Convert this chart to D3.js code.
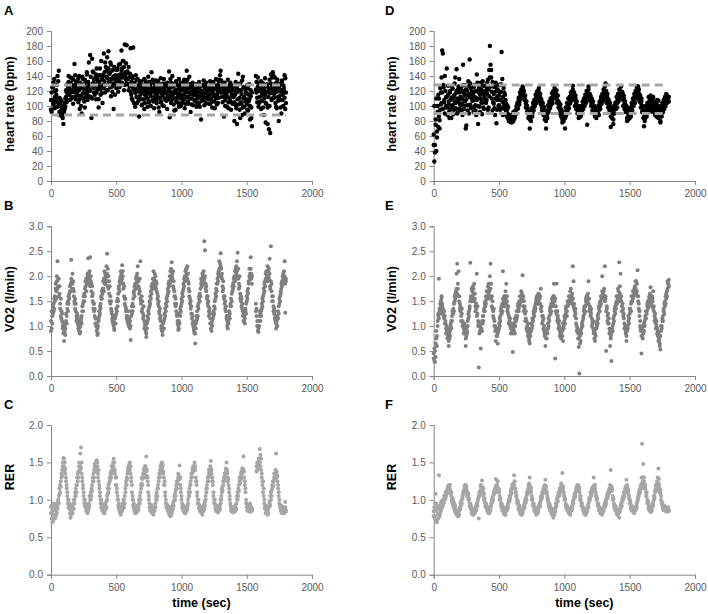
<!DOCTYPE html>
<html><head><meta charset="utf-8">
<script src="https://cdn.jsdelivr.net/npm/d3@7"></script>
<style>body{margin:0;background:#fff}svg{display:block}</style>
</head><body><svg id="c" width="708" height="614"></svg>
<script>
// sample times (sec)
const times = [
0,5,10,15,20,25,30,35,40,45,50,55,60,65,70,75,80,85,90,95,
100,105,110,115,120,125,130,135,140,145,150,155,160,165,170,175,180,185,190,195,
200,205,210,215,220,225,230,235,240,245,250,255,260,265,270,275,280,285,290,295,
300,305,310,315,320,325,330,335,340,345,350,355,360,365,370,375,380,385,390,395,
400,405,410,415,420,425,430,435,440,445,450,455,460,465,470,475,480,485,490,495,
500,505,510,515,520,525,530,535,540,545,550,555,560,565,570,575,580,585,590,595,
600,605,610,615,620,625,630,635,640,645,650,655,660,665,670,675,680,685,690,695,
700,705,710,715,720,725,730,735,740,745,750,755,760,765,770,775,780,785,790,795,
800,805,810,815,820,825,830,835,840,845,850,855,860,865,870,875,880,885,890,895,
900,905,910,915,920,925,930,935,940,945,950,955,960,965,970,975,980,985,990,995,
1000,1005,1010,1015,1020,1025,1030,1035,1040,1045,1050,1055,1060,1065,1070,1075,1080,1085,1090,1095,
1100,1105,1110,1115,1120,1125,1130,1135,1140,1145,1150,1155,1160,1165,1170,1175,1180,1185,1190,1195,
1200,1205,1210,1215,1220,1225,1230,1235,1240,1245,1250,1255,1260,1265,1270,1275,1280,1285,1290,1295,
1300,1305,1310,1315,1320,1325,1330,1335,1340,1345,1350,1355,1360,1365,1370,1375,1380,1385,1390,1395,
1400,1405,1410,1415,1420,1425,1430,1435,1440,1445,1450,1455,1460,1465,1470,1475,1480,1485,1490,1495,
1500,1505,1510,1515,1520,1525,1530,1535,1540,1545,1550,1555,1560,1565,1570,1575,1580,1585,1590,1595,
1600,1605,1610,1615,1620,1625,1630,1635,1640,1645,1650,1655,1660,1665,1670,1675,1680,1685,1690,1695,
1700,1705,1710,1715,1720,1725,1730,1735,1740,1745,1750,1755,1760,1765,1770,1775,1780,1785,1790,1795,
1800];

// A: heart rate (bpm), subject 1 — two readings per sample time
const hrA = [
95,118,108,125,102,136,112,98,121,109,140,104,147,92,110,100,94,86,97,76,
92,104,99,112,118,108,126,132,115,122,138,110,128,119,135,124,156,112,130,121,
118,132,105,140,96,125,114,90,128,136,110,122,98,131,117,142,108,126,158,120,
168,112,84,163,130,145,118,127,138,109,150,122,133,98,141,126,115,160,136,104,
128,170,145,118,152,139,165,121,173,144,132,158,113,147,126,138,96,152,130,141,
124,148,137,119,155,133,142,128,174,150,138,160,121,182,145,135,181,146,129,152,
138,126,177,115,140,108,178,122,131,99,118,135,104,127,112,86,124,109,133,117,
102,121,128,96,115,133,110,124,99,139,118,106,129,113,145,120,108,131,97,125,
116,134,104,122,128,110,92,119,137,106,125,114,130,100,121,117,108,127,96,113,
124,146,85,118,131,108,140,115,102,127,119,95,133,111,122,104,136,117,128,100,
113,126,108,121,135,97,118,130,147,112,124,103,129,116,92,120,110,126,101,118,
107,122,114,99,127,110,118,104,125,113,82,120,108,128,116,101,124,111,131,117,
122,109,126,114,103,128,118,106,121,132,113,97,124,110,127,116,104,133,120,141,
147,125,112,130,118,86,122,108,127,114,99,119,105,124,110,131,95,116,121,104,
112,80,126,101,118,76,109,143,121,95,130,105,116,88,139,110,99,124,106,117,
102,128,94,115,109,82,121,98,73,null,null,null,null,null,140,118,105,126,99,131,
112,124,96,118,107,130,88,121,115,78,103,126,98,119,69,135,64,142,125,110,
145,128,116,138,104,122,97,131,112,80,126,108,119,90,134,115,100,123,141,96,
118];
const hrA2 = [
108,92,125,104,131,97,120,106,115,128,99,133,111,88,104,93,107,98,84,90,
101,96,110,121,105,129,117,140,124,108,131,119,112,137,103,127,118,141,109,133,
126,114,137,121,109,131,100,124,139,117,128,106,135,112,123,145,119,132,113,127,
121,139,128,110,146,124,135,115,129,142,118,137,126,109,132,150,122,141,117,135,
140,124,133,158,128,147,121,137,150,132,143,125,155,136,119,148,130,140,115,134,
139,127,150,133,141,125,156,138,147,131,160,142,152,128,139,157,130,144,136,121,
127,143,119,132,110,137,124,104,129,118,141,112,123,136,107,120,131,115,126,101,
118,109,125,136,104,120,115,129,110,123,105,132,116,100,124,119,135,106,121,112,
128,109,120,115,133,98,124,111,105,129,117,101,122,136,110,118,126,107,131,119,
109,121,113,136,104,125,118,129,110,94,121,132,106,117,128,113,99,124,110,131,
121,104,131,115,109,126,103,121,112,135,106,118,139,110,124,117,102,131,115,123,
120,108,129,117,104,123,112,132,99,118,127,107,120,113,134,109,125,104,119,126,
112,125,103,121,133,110,124,98,117,129,106,123,115,136,102,121,128,111,135,124,
118,134,127,105,123,113,131,100,118,124,112,135,97,121,129,106,124,114,103,127,
121,105,115,132,97,124,119,102,129,111,84,121,103,134,98,125,112,90,120,109,
117,95,124,106,129,100,113,84,118,null,null,null,null,null,122,132,111,138,120,104,
127,106,133,114,120,98,125,110,137,104,118,129,76,112,123,100,117,130,108,138,
121,140,111,126,130,99,119,135,107,123,113,129,98,121,132,108,118,127,111,137,
104];

// D: heart rate (bpm), subject 2
const hrD = [
62,26,48,75,40,66,100,72,110,81,95,118,104,174,170,125,105,140,98,112,
150,88,115,102,93,120,108,84,126,99,111,95,130,104,117,149,90,122,108,136,
96,112,125,103,88,155,118,100,128,70,109,121,94,133,116,162,102,124,97,113,
107,92,119,128,101,88,142,110,76,123,99,115,131,105,89,118,127,96,112,120,
104,125,116,135,98,148,180,155,138,110,94,126,103,118,88,131,77,108,122,100,
114,128,95,119,172,106,88,124,101,115,98,92,86,100,83,80,86,79,84,88,
82,86,80,85,90,88,95,99,96,104,108,105,112,116,113,120,118,124,115,112,
108,103,98,100,93,90,86,70,84,88,92,90,97,101,99,106,110,108,114,117,
121,118,113,108,110,102,98,100,94,91,87,84,70,86,90,94,92,99,103,101,
108,111,109,114,117,113,120,118,112,108,104,106,99,95,97,91,88,78,86,84,
88,70,86,92,96,94,101,105,103,110,114,112,119,127,116,112,108,110,103,99,
96,93,90,95,88,92,96,94,100,104,102,108,111,109,115,75,118,122,114,110,
106,108,102,99,101,95,93,96,90,88,92,95,93,99,103,101,107,110,108,114,
117,121,119,130,113,109,111,104,100,102,96,72,92,88,90,76,95,99,97,103,
106,104,110,113,111,117,120,116,119,112,108,110,103,99,101,94,80,91,88,86,
89,93,91,98,102,100,107,111,109,115,119,124,121,126,117,112,108,104,106,99,
95,90,73,86,84,92,96,90,101,105,97,108,104,112,99,110,106,102,95,100,
92,104,98,89,107,96,86,80,94,90,99,97,103,101,107,112,109,114,111,106,
112];
const hrD2 = [
48,100,38,82,110,58,92,115,86,70,124,102,138,118,96,128,108,90,120,100,
112,98,127,106,84,118,96,111,101,123,89,114,106,138,97,120,110,92,126,104,
118,101,93,120,109,128,96,114,106,122,74,115,101,127,90,112,130,98,119,108,
116,125,99,112,94,120,108,131,100,118,126,92,110,122,104,133,98,115,109,127,
120,108,131,95,122,113,138,126,148,119,132,105,116,97,125,110,120,95,113,128,
101,118,108,129,97,136,112,104,118,96,108,103,95,90,98,86,80,88,82,78,
88,79,92,83,84,94,90,100,104,97,111,102,118,109,122,114,126,117,120,108,
114,98,106,92,96,84,92,82,90,80,97,86,104,94,108,100,115,104,119,111,
114,124,106,116,102,108,94,104,88,98,82,92,80,93,84,101,96,106,97,110,
102,117,104,120,111,124,114,111,121,104,114,98,104,90,102,86,94,82,92,80,
92,84,98,88,104,99,110,97,112,104,118,107,114,122,109,118,100,114,96,106,
90,100,84,98,92,86,100,90,106,96,110,100,115,104,120,110,113,126,108,116,
114,100,110,94,106,90,100,86,96,84,98,90,100,88,106,96,112,103,116,106,
122,110,126,112,120,104,116,98,108,94,104,86,98,84,96,82,100,90,104,96,
112,98,116,106,122,110,114,126,110,118,100,114,96,106,92,100,84,96,82,92,
84,98,86,104,94,110,100,116,104,120,110,126,114,118,122,106,114,98,110,92,
100,84,94,80,90,100,86,104,94,112,100,94,114,98,106,92,112,96,104,88,
98,86,108,94,84,100,92,78,98,86,104,92,108,96,112,100,116,104,108,112,
106];

// B: VO2 (l/min), subject 1
const vo2B = [
0.9,1.3,1.05,1.25,1.45,1.35,1.6,1.75,1.55,1.9,2.3,1.8,1.95,1.65,1.45,1.2,1.3,1.1,0.95,1.05,
0.7,0.88,0.95,1.1,1.2,1.35,1.5,1.45,1.65,1.8,1.7,2.33,1.9,2.05,1.75,1.6,1.45,1.55,1.3,1.2,
1.25,1.05,0.95,1.1,0.85,0.98,1.15,1.05,1.3,1.45,1.6,1.5,1.75,1.9,1.7,1.95,2.05,2.36,1.85,2.1,
2.38,1.9,1.7,1.8,1.5,1.35,1.45,1.2,1.05,1.15,0.9,0.82,1.0,1.15,1.3,1.25,1.45,1.6,1.55,1.75,
1.9,1.7,1.85,2.05,1.95,2.2,2.45,1.8,2.0,1.65,1.5,1.6,1.35,1.25,1.1,1.2,1.0,0.92,1.05,1.2,
1.35,1.5,1.4,1.65,1.8,1.7,1.95,2.1,1.9,2.22,2.0,1.85,1.6,1.45,1.55,1.3,1.2,1.1,1.3,1.0,
1.15,0.95,0.72,1.2,1.4,1.3,1.55,1.7,1.6,1.85,1.75,2.0,1.9,2.2,1.8,1.65,1.95,2.3,1.5,1.6,
1.35,1.25,1.4,1.1,1.0,0.9,0.78,1.05,1.2,1.15,1.35,1.5,1.45,1.7,1.65,1.85,1.75,2.1,1.95,2.05,
1.8,1.9,1.7,1.55,1.6,1.4,1.25,1.35,1.1,1.0,0.9,0.82,0.95,1.1,1.25,1.2,1.45,1.4,1.6,1.75,
1.7,1.9,1.85,2.1,1.95,2.28,2.05,1.8,1.9,1.6,1.45,1.55,1.3,1.2,1.05,0.92,1.1,1.25,1.2,1.4,
1.55,1.5,1.7,1.85,1.8,2.0,1.95,2.15,2.05,2.2,1.9,1.75,1.6,1.45,1.5,1.25,1.15,1.2,1.0,0.9,
0.85,0.65,0.95,1.1,1.3,1.2,1.45,1.6,1.5,1.75,1.85,1.8,1.95,2.0,1.9,2.7,2.52,1.85,1.7,1.55,
1.6,1.4,1.3,1.35,1.15,1.05,0.9,1.0,1.15,1.3,1.25,1.5,1.65,1.6,1.85,1.95,1.9,2.1,2.3,2.0,
2.46,2.15,1.95,1.8,1.9,1.6,1.45,1.5,1.3,1.2,1.1,0.95,1.05,1.2,1.15,1.4,1.55,1.5,1.7,1.85,
1.8,2.0,1.9,2.15,2.05,2.3,2.47,1.95,1.85,2.0,1.65,1.5,1.55,1.35,1.3,1.1,1.2,1.05,1.35,1.45,
1.6,1.55,1.75,1.9,2.15,2.05,2.38,1.95,2.0,null,null,null,null,null,1.45,1.2,1.0,0.9,0.88,1.1,
1.2,1.1,1.3,1.45,1.4,1.6,1.75,1.7,1.9,2.05,1.95,2.1,2.2,2.0,2.15,2.35,1.8,2.6,1.85,1.6,
1.5,1.4,1.25,1.3,1.1,0.95,1.0,1.2,1.15,1.4,1.55,1.5,1.7,1.85,1.8,2.0,1.95,2.1,2.3,1.27,
1.95];
const vo2B2 = [
1.1,0.95,1.2,1.4,1.3,1.55,1.5,1.85,1.7,2.0,1.75,1.95,1.6,1.8,1.35,1.55,1.15,1.25,1.0,0.85,
0.9,1.0,0.82,1.25,1.05,1.45,1.3,1.6,1.55,1.7,1.85,1.95,1.75,1.85,1.9,1.7,1.5,1.35,1.45,1.1,
1.15,1.2,1.0,0.9,1.05,0.88,1.1,1.2,1.4,1.3,1.5,1.65,1.6,1.8,1.95,1.85,2.0,1.9,2.05,1.95,
1.8,2.0,1.85,1.6,1.65,1.45,1.3,1.35,1.15,1.0,1.05,0.95,0.85,1.1,1.2,1.4,1.35,1.55,1.7,1.65,
1.75,1.95,2.1,1.85,2.0,1.9,2.05,2.15,1.75,1.9,1.8,1.45,1.5,1.3,1.15,1.05,1.1,0.95,1.15,1.05,
1.25,1.3,1.55,1.5,1.75,1.9,1.85,2.0,2.05,1.95,2.1,1.75,1.8,1.55,1.4,1.35,1.15,1.2,1.05,1.15,
1.05,1.1,1.0,1.3,1.25,1.45,1.4,1.65,1.8,1.75,1.95,1.85,2.05,1.95,1.9,1.75,1.7,1.55,1.45,1.3,
1.5,1.15,1.2,0.95,1.05,1.0,0.85,0.95,1.1,1.3,1.25,1.4,1.6,1.55,1.8,1.75,1.95,1.85,1.9,1.8,
2.0,1.75,1.85,1.65,1.45,1.5,1.3,1.15,1.2,0.95,1.0,0.9,1.05,0.95,1.15,1.35,1.3,1.55,1.5,1.65,
1.85,1.8,2.0,1.9,2.15,2.0,1.95,2.1,1.75,1.7,1.6,1.4,1.45,1.25,1.1,1.0,0.95,1.05,1.35,1.3,
1.45,1.65,1.6,1.75,1.95,1.9,2.1,2.0,2.15,1.95,2.05,1.85,1.7,1.55,1.35,1.4,1.25,1.05,1.1,0.95,
1.0,0.85,1.05,1.2,1.15,1.4,1.35,1.55,1.65,1.6,1.95,1.9,2.05,1.85,2.1,1.95,2.0,1.75,1.8,1.6,
1.45,1.5,1.2,1.25,1.05,0.95,1.05,1.1,1.25,1.2,1.4,1.35,1.55,1.75,1.7,1.85,2.05,2.0,2.15,2.25,
2.2,2.0,2.05,1.7,1.75,1.55,1.6,1.35,1.4,1.15,1.0,1.05,1.1,1.3,1.25,1.45,1.4,1.65,1.8,1.75,
1.95,1.9,2.1,1.95,2.2,2.1,2.0,2.15,1.75,1.8,1.55,1.6,1.4,1.45,1.2,1.25,1.1,1.15,1.3,1.25,
1.5,1.7,1.65,1.85,2.0,1.95,2.15,2.05,1.85,null,null,null,null,null,1.3,1.35,1.1,1.0,0.95,1.0,
1.3,1.25,1.2,1.35,1.55,1.5,1.65,1.85,1.8,1.95,2.1,2.0,1.9,2.1,1.95,2.05,1.75,1.9,1.7,1.5,
1.6,1.3,1.35,1.15,1.2,1.05,1.1,1.0,1.3,1.25,1.45,1.6,1.65,1.75,1.9,1.85,2.05,1.95,2.0,1.85,
1.9];

// E: VO2 (l/min), subject 2
const vo2E = [
0.45,0.3,0.5,0.38,0.75,0.6,1.0,1.2,1.95,1.3,1.45,1.5,1.6,1.4,1.35,1.25,1.15,1.2,1.05,0.95,
1.0,0.85,0.8,0.6,0.75,0.9,1.0,1.1,1.2,1.3,1.25,1.45,1.6,1.55,1.7,2.05,2.25,1.75,2.1,1.6,
1.45,1.3,1.2,1.35,1.1,1.0,0.95,1.05,0.85,0.6,0.8,0.9,1.1,1.25,1.2,1.4,2.27,1.55,1.5,1.7,
1.8,1.65,1.85,1.55,1.4,1.45,2.05,1.25,1.1,0.17,1.0,0.9,0.55,0.95,1.1,1.05,1.2,1.3,1.45,1.4,
1.6,1.55,1.7,1.8,1.65,1.75,2.0,2.25,1.85,1.6,1.5,1.3,1.35,1.1,1.0,0.7,0.9,0.8,0.65,0.95,
1.05,1.0,1.2,1.3,1.25,1.45,2.1,1.5,1.4,1.6,1.55,1.85,1.5,1.35,1.4,1.2,1.1,1.15,0.95,1.0,
0.9,0.48,0.95,1.05,0.85,1.1,1.2,1.15,1.3,1.4,1.35,1.5,1.45,1.6,1.55,1.65,2.02,1.6,1.5,1.4,
1.25,1.3,1.1,1.0,1.05,0.85,0.75,0.65,0.8,0.9,1.05,1.0,1.15,1.25,1.2,1.4,1.35,1.5,1.45,1.6,
1.5,1.65,1.55,1.45,1.75,1.3,1.2,1.1,1.15,0.9,0.8,0.6,0.85,0.75,0.95,1.05,1.0,1.2,1.3,1.25,
1.45,1.4,1.55,1.6,1.85,1.5,0.35,1.4,1.85,1.3,1.2,1.05,1.1,0.9,0.85,0.75,0.95,0.8,0.7,1.0,
1.1,1.05,1.25,1.3,1.2,1.4,1.5,1.45,1.6,1.55,1.75,1.5,1.65,2.2,1.9,1.45,1.3,1.35,1.15,1.0,
0.9,0.75,0.58,0.05,0.8,0.7,0.95,1.05,1.0,1.2,1.3,1.25,1.4,1.5,1.45,1.6,1.65,1.9,1.55,1.4,
1.3,1.35,1.15,1.05,1.1,0.9,0.75,0.85,0.8,0.95,1.1,1.05,1.25,1.35,1.3,1.5,1.45,1.6,2.0,1.65,
1.7,1.6,2.2,1.55,0.5,1.35,1.2,1.25,1.05,0.95,0.6,0.75,0.3,0.9,1.0,1.05,1.2,1.3,1.25,1.45,
1.5,1.6,1.55,1.7,2.28,1.65,2.05,1.5,1.4,1.3,1.35,1.15,1.05,0.95,0.85,0.7,0.9,1.0,1.1,1.05,
1.25,1.35,1.3,1.5,1.6,1.55,1.7,1.65,1.8,1.75,1.9,1.85,2.12,1.6,1.45,1.3,1.1,0.9,0.45,0.8,
0.75,1.0,0.9,1.1,1.2,1.15,1.3,1.4,1.35,1.5,1.6,1.55,1.78,1.45,1.6,1.5,1.7,1.3,1.2,1.25,
1.05,1.1,0.95,0.8,0.85,0.7,0.6,0.53,0.9,1.0,1.1,1.2,1.35,1.45,1.4,1.6,1.55,1.7,1.9,1.85,
1.93];
const vo2E2 = [
0.35,0.55,0.28,0.65,0.9,0.8,1.1,1.25,1.15,1.35,1.25,1.4,1.55,1.45,1.3,1.2,1.3,1.05,1.1,0.85,
0.9,0.75,0.95,0.7,0.85,0.8,1.05,0.95,1.1,1.25,1.35,1.3,1.5,1.65,1.6,1.75,1.65,1.85,1.6,1.5,
1.35,1.4,1.1,1.25,1.0,1.05,0.85,0.9,1.0,0.75,0.95,0.85,1.0,1.15,1.3,1.35,1.5,1.6,1.75,1.6,
1.55,1.75,1.5,1.65,1.3,1.35,1.2,1.4,1.0,1.05,0.85,1.0,0.95,1.05,0.9,1.2,1.1,1.35,1.3,1.5,
1.45,1.7,1.6,1.55,1.85,1.7,1.6,1.75,1.55,1.4,1.35,1.2,1.15,1.0,0.9,0.95,0.8,0.95,0.85,0.9,
0.95,1.15,1.1,1.35,1.4,1.3,1.55,1.45,1.6,1.5,1.7,1.45,1.6,1.3,1.25,1.05,1.15,1.0,0.85,0.95,
1.05,0.85,1.0,0.9,1.15,1.0,1.1,1.3,1.2,1.45,1.3,1.4,1.6,1.5,1.7,1.5,1.55,1.4,1.3,1.35,
1.1,1.15,0.95,0.9,0.8,0.95,0.7,0.85,0.9,1.05,0.95,1.15,1.1,1.3,1.35,1.3,1.45,1.55,1.6,1.45,
1.65,1.55,1.45,1.6,1.35,1.4,1.05,1.2,0.95,1.0,0.85,0.9,0.75,0.9,0.85,0.95,1.15,1.1,1.35,1.4,
1.3,1.55,1.5,1.45,1.6,1.4,1.55,1.3,1.25,1.1,1.15,0.95,1.0,0.8,0.9,0.85,0.8,0.9,1.05,0.95,
1.2,1.15,1.35,1.4,1.3,1.5,1.45,1.6,1.5,1.7,1.55,1.6,1.45,1.55,1.4,1.35,1.2,1.25,1.05,0.9,
0.95,0.85,0.75,0.9,0.65,0.9,0.85,1.0,1.1,1.15,1.35,1.4,1.3,1.55,1.6,1.5,1.55,1.45,1.3,1.35,
1.2,1.25,1.0,1.1,0.95,0.85,0.9,0.7,0.95,1.05,1.0,1.2,1.15,1.4,1.45,1.4,1.6,1.55,1.7,1.55,
1.6,1.75,1.5,1.6,1.3,1.4,1.1,1.05,1.15,0.85,0.9,0.8,0.85,0.95,0.9,1.15,1.1,1.35,1.4,1.35,
1.6,1.45,1.75,1.6,1.5,1.8,1.55,1.6,1.3,1.45,1.2,1.25,0.95,1.0,0.9,0.8,1.0,0.95,1.2,1.15,
1.35,1.3,1.45,1.6,1.5,1.7,1.6,1.75,1.7,1.9,1.65,1.7,1.6,1.5,1.35,1.2,1.0,0.95,0.8,0.95,
0.9,0.85,1.05,1.0,1.15,1.3,1.25,1.45,1.5,1.4,1.55,1.65,1.5,1.6,1.4,1.55,1.35,1.4,1.1,1.15,
0.95,1.0,0.85,0.9,0.7,0.75,0.65,0.8,1.0,0.95,1.15,1.1,1.3,1.25,1.5,1.45,1.65,1.6,1.75,1.85,
1.8];

// C: RER, subject 1
const rerC = [
0.9,0.75,0.85,0.72,0.95,0.8,0.88,0.78,0.92,0.83,0.9,0.98,1.05,1.15,1.1,1.25,1.3,1.4,1.5,1.56,
1.45,1.5,1.35,1.25,1.15,1.05,0.95,1.0,0.88,0.92,0.76,0.85,0.9,0.82,0.95,0.88,1.0,1.1,1.05,1.2,
1.3,1.25,1.38,1.45,1.4,1.62,1.7,1.35,1.25,1.15,1.05,0.95,1.0,0.9,0.85,0.92,0.82,0.88,0.95,1.05,
1.0,1.1,1.05,1.2,1.3,1.25,1.4,1.45,1.38,1.5,1.53,1.45,1.35,1.25,1.15,1.05,0.95,1.0,0.88,0.92,
0.85,0.9,0.82,0.95,0.88,0.98,1.05,1.15,1.1,1.22,1.3,1.28,1.38,1.35,1.45,1.42,1.55,1.5,1.4,1.3,
1.2,1.1,1.0,0.92,0.95,0.85,0.88,0.8,0.9,0.85,0.95,1.0,0.9,1.05,1.15,1.25,1.2,1.35,1.42,1.4,
1.48,1.5,1.35,1.25,1.1,1.0,0.92,0.95,0.85,0.88,0.82,0.9,0.85,0.92,0.87,0.95,1.05,1.0,1.15,1.22,
1.2,1.3,1.35,1.42,1.3,1.45,1.58,1.4,1.3,1.2,1.05,0.95,0.9,0.85,0.93,0.82,0.88,0.8,0.9,0.85,
0.95,1.0,1.1,1.05,1.2,1.25,1.3,1.4,1.35,1.48,1.5,1.45,1.38,1.3,1.2,1.1,1.0,0.95,0.88,0.92,
0.85,0.8,0.9,0.78,0.85,0.82,0.92,0.88,0.98,1.05,1.0,1.12,1.2,1.15,1.25,1.3,1.28,1.46,1.2,1.1,
1.0,0.95,0.88,0.92,0.85,0.9,0.82,0.88,0.85,0.92,1.0,1.05,1.15,1.1,1.25,1.3,1.35,1.42,1.38,1.45,
1.5,1.4,1.3,1.2,1.1,1.0,0.95,0.88,0.92,0.85,0.88,0.9,0.8,0.87,0.92,0.88,0.98,1.05,1.1,1.2,
1.25,1.3,1.35,1.38,1.45,1.52,1.4,1.3,1.2,1.1,1.0,0.95,0.9,0.85,0.92,0.88,0.83,0.9,0.86,0.93,
1.0,1.05,1.1,1.18,1.25,1.3,1.28,1.35,1.38,1.5,1.35,1.3,1.2,1.1,1.0,0.92,0.88,0.85,0.9,0.83,
0.88,0.84,0.92,0.86,0.95,1.0,1.1,1.05,1.2,1.25,1.3,1.28,1.38,1.35,1.42,1.58,1.3,1.2,1.1,1.0,
0.95,0.9,0.85,0.92,0.88,0.95,0.87,0.9,0.86,null,null,null,null,null,null,1.45,1.4,1.5,1.45,1.55,
1.68,1.6,1.4,1.3,1.2,1.25,1.05,0.95,0.88,0.82,0.9,0.85,0.8,0.88,0.92,0.98,1.05,1.0,1.12,1.2,
1.18,1.25,1.3,1.35,1.32,1.62,1.38,1.25,1.15,1.05,0.95,0.9,0.85,0.88,0.82,0.9,0.85,0.88,0.84,0.97,
0.86];
const rerC2 = [
0.82,0.92,0.7,0.88,0.8,0.93,0.75,0.86,0.8,0.95,0.88,1.0,0.95,1.08,1.2,1.18,1.35,1.32,1.45,1.42,
1.55,1.38,1.42,1.3,1.2,1.1,1.0,0.9,0.95,0.82,0.88,0.8,0.85,0.92,0.88,1.0,0.95,1.05,1.15,1.1,
1.2,1.35,1.3,1.5,1.38,1.45,1.42,1.5,1.3,1.2,1.1,1.0,0.92,0.95,0.88,0.85,0.9,0.85,0.88,0.92,
1.05,1.0,1.15,1.12,1.25,1.35,1.3,1.48,1.42,1.45,1.4,1.5,1.3,1.4,1.2,1.1,1.0,0.9,0.95,0.85,
0.9,0.82,0.88,0.86,0.92,0.9,1.0,1.08,1.2,1.15,1.25,1.35,1.3,1.45,1.4,1.5,1.45,1.38,1.35,1.2,
1.3,1.15,1.05,1.0,0.88,0.9,0.82,0.88,0.85,0.92,0.88,0.9,1.0,0.95,1.1,1.2,1.3,1.28,1.38,1.45,
1.42,1.4,1.45,1.3,1.2,1.05,1.0,0.88,0.9,0.82,0.88,0.85,0.92,0.85,0.9,1.0,0.95,1.1,1.2,1.3,
1.28,1.35,1.4,1.35,1.45,1.4,1.38,1.32,1.25,1.1,1.0,0.9,0.85,0.92,0.86,0.9,0.84,0.88,0.85,0.9,
0.9,1.05,1.0,1.15,1.15,1.3,1.35,1.3,1.45,1.4,1.42,1.48,1.35,1.2,1.25,1.05,0.95,0.9,0.92,0.85,
0.88,0.85,0.82,0.88,0.8,0.88,0.86,0.95,0.92,1.0,1.08,1.05,1.15,1.25,1.22,1.35,1.32,1.28,1.3,1.15,
1.05,0.9,0.92,0.85,0.88,0.82,0.9,0.85,0.9,0.88,0.95,1.1,1.05,1.2,1.2,1.35,1.3,1.38,1.45,1.4,
1.42,1.45,1.25,1.25,1.05,0.95,1.0,0.9,0.85,0.9,0.83,0.86,0.88,0.9,0.85,0.95,0.92,1.0,1.15,1.15,
1.3,1.25,1.4,1.32,1.38,1.42,1.35,1.25,1.25,1.05,0.95,1.0,0.88,0.9,0.86,0.84,0.9,0.85,0.9,0.88,
0.95,1.0,1.15,1.12,1.2,1.25,1.35,1.3,1.42,1.38,1.4,1.25,1.28,1.15,1.05,0.95,0.85,0.9,0.84,0.88,
0.85,0.9,0.85,0.9,0.88,1.05,1.0,1.15,1.12,1.3,1.22,1.35,1.3,1.42,1.38,1.4,1.38,1.25,1.15,0.95,
0.9,0.86,0.92,0.86,0.9,0.84,0.92,0.85,0.88,null,null,null,null,null,null,1.38,1.5,1.42,1.55,1.48,
1.5,1.45,1.55,1.35,1.25,1.1,1.15,1.0,0.9,0.92,0.85,0.88,0.85,0.82,0.9,0.95,0.92,1.1,1.05,1.15,
1.25,1.2,1.35,1.28,1.4,1.35,1.3,1.32,1.2,1.1,1.0,0.92,0.88,0.92,0.86,0.85,0.9,0.82,0.88,0.9,
0.84];

// F: RER, subject 2
const rerF = [
0.85,0.78,0.95,1.08,0.72,0.88,0.8,0.75,1.33,0.9,0.82,0.95,0.88,0.98,0.92,1.0,0.97,1.05,1.02,1.1,
1.08,1.15,1.12,1.2,1.18,1.14,1.1,1.05,1.0,0.95,0.98,0.9,0.85,0.88,0.82,0.86,0.8,0.84,0.78,0.86,
0.9,0.95,0.93,1.0,1.05,1.08,1.12,1.18,1.15,1.2,1.14,1.1,1.05,1.08,1.0,0.95,0.9,0.92,0.86,0.82,
0.85,0.8,0.83,0.88,0.85,0.92,0.9,0.97,1.0,0.75,1.05,1.12,1.18,1.15,1.26,1.12,1.05,1.08,0.98,0.92,
0.95,0.88,0.9,0.85,0.82,0.88,0.84,0.9,0.95,1.0,0.97,1.05,1.1,1.08,1.15,1.28,1.12,1.2,1.25,1.15,
1.1,1.05,1.0,0.95,0.9,0.92,0.86,0.88,0.82,0.86,0.8,0.85,0.9,0.88,0.95,1.0,0.98,1.05,1.1,1.08,
1.15,1.2,1.18,1.33,1.25,1.15,1.1,1.05,1.0,0.95,0.9,0.92,0.86,0.82,0.85,0.8,0.84,0.88,0.92,0.9,
0.98,1.02,1.0,1.08,1.12,1.2,1.15,1.3,1.18,1.1,1.05,1.0,0.95,0.92,0.88,0.9,0.84,0.86,0.82,0.85,
0.88,0.92,0.9,0.97,1.0,1.05,1.03,1.1,1.12,1.18,1.15,1.27,1.12,1.08,1.02,0.98,0.95,0.9,0.92,0.86,
0.84,0.88,0.82,0.76,0.85,0.8,0.88,0.9,0.95,1.0,0.98,1.05,1.1,1.08,1.15,1.22,1.18,1.36,1.15,1.1,
1.05,1.0,0.95,0.92,0.88,0.9,0.85,0.82,0.86,0.8,0.85,0.9,0.88,0.95,1.0,1.05,1.03,1.1,1.15,1.12,
1.2,1.15,1.18,1.1,1.05,1.0,0.96,0.92,0.88,0.9,0.85,0.82,0.86,0.8,0.84,0.88,0.9,0.95,0.98,1.02,
1.05,1.1,1.08,1.15,1.12,1.3,1.2,1.15,1.1,1.05,1.0,0.95,0.92,0.88,0.9,0.85,0.82,0.86,0.8,0.84,
0.88,0.9,0.95,0.92,1.0,1.05,1.02,1.1,1.08,1.15,1.2,1.4,1.18,1.12,1.05,1.0,0.95,0.9,0.92,0.86,
0.82,0.85,0.8,0.86,0.76,0.88,0.92,0.9,0.97,1.0,1.05,1.03,1.1,1.15,1.12,1.27,1.18,1.15,1.08,1.05,
1.0,0.95,0.9,0.92,0.86,0.88,0.84,0.87,0.85,0.9,0.88,0.95,1.0,1.05,1.1,1.08,1.15,1.2,1.3,1.75,
1.25,1.48,1.3,1.2,1.15,1.1,1.05,1.0,0.95,0.9,0.92,0.85,0.88,0.84,0.9,0.92,0.97,1.0,1.05,1.1,
1.15,1.12,1.2,1.3,1.42,1.2,1.15,1.08,1.0,0.95,0.92,0.88,0.9,0.86,0.88,0.85,0.9,0.87,0.88,0.85,
0.86];
const rerF2 = [
0.78,0.9,0.75,0.85,0.95,0.7,0.92,0.82,0.88,0.78,0.92,0.86,0.98,0.9,1.0,0.95,1.05,1.0,1.1,1.05,
1.12,1.1,1.18,1.15,1.12,1.2,1.08,1.1,0.98,1.02,0.92,0.95,0.88,0.92,0.85,0.8,0.84,0.78,0.82,0.8,
0.86,0.88,0.98,0.95,1.02,1.1,1.08,1.14,1.2,1.12,1.18,1.05,1.1,1.0,1.02,0.92,0.95,0.88,0.82,0.86,
0.8,0.84,0.88,0.82,0.9,0.86,0.95,0.92,1.02,1.05,1.1,1.08,1.2,1.12,1.18,1.1,1.15,1.0,1.02,0.95,
0.9,0.92,0.85,0.88,0.86,0.82,0.9,0.86,0.92,0.97,1.02,1.0,1.08,1.12,1.1,1.18,1.2,1.15,1.12,1.1,
1.14,1.0,1.02,0.92,0.95,0.86,0.9,0.82,0.86,0.8,0.84,0.88,0.86,0.92,0.9,0.98,1.05,1.02,1.12,1.15,
1.2,1.15,1.22,1.2,1.15,1.1,1.05,1.0,0.95,0.98,0.88,0.86,0.82,0.86,0.8,0.84,0.82,0.9,0.88,0.95,
1.0,0.96,1.05,1.1,1.08,1.15,1.22,1.18,1.12,1.15,1.0,1.02,0.92,0.95,0.86,0.84,0.88,0.8,0.86,0.82,
0.84,0.9,0.95,0.92,1.04,1.0,1.1,1.08,1.15,1.12,1.2,1.15,1.18,1.1,1.05,1.0,0.92,0.95,0.86,0.9,
0.82,0.8,0.86,0.84,0.82,0.86,0.84,0.95,0.92,1.02,1.05,1.1,1.05,1.15,1.12,1.18,1.2,1.12,1.18,1.05,
1.0,1.02,0.92,0.88,0.92,0.85,0.88,0.86,0.82,0.84,0.88,0.86,0.92,0.98,0.95,1.02,1.08,1.05,1.12,1.18,
1.15,1.2,1.12,1.15,1.0,1.05,0.92,0.95,0.9,0.86,0.82,0.86,0.8,0.84,0.86,0.84,0.92,0.9,1.02,1.0,
1.1,1.05,1.15,1.12,1.18,1.15,1.12,1.2,1.05,1.0,1.02,0.92,0.95,0.86,0.88,0.82,0.86,0.82,0.84,0.88,
0.85,0.92,0.9,0.98,0.95,1.02,1.08,1.05,1.12,1.1,1.15,1.12,1.18,1.15,1.0,1.02,0.92,0.88,0.86,0.9,
0.86,0.8,0.84,0.82,0.86,0.84,0.88,0.95,0.92,1.02,1.0,1.1,1.05,1.12,1.18,1.15,1.2,1.1,1.12,1.02,
0.95,0.98,0.88,0.86,0.9,0.84,0.86,0.82,0.88,0.86,0.92,0.9,0.98,1.02,1.05,1.12,1.1,1.18,1.15,1.22,
1.3,1.2,1.25,1.15,1.2,1.05,1.1,0.95,0.98,0.88,0.86,0.9,0.84,0.88,0.86,0.95,0.92,1.05,1.02,1.12,
1.2,1.18,1.25,1.15,1.22,1.28,1.1,1.12,1.05,0.98,0.95,0.9,0.86,0.92,0.88,0.9,0.86,0.84,0.88,0.9,
0.85];

// reference bands (dashed) for heart rate
const bandA = [88, 128];
const bandD = [90, 128];
const bandEndA = 1800, bandEndD = 1770;

const xTicks = [0, 500, 1000, 1500, 2000];
const hrTicks = [0, 20, 40, 60, 80, 100, 120, 140, 160, 180, 200];
const vo2Ticks = [0, 0.5, 1.0, 1.5, 2.0, 2.5, 3.0];
const rerTicks = [0, 0.5, 1.0, 1.5, 2.0];

const svg = d3.select("#c");
const FONT = "'Liberation Sans', Arial, sans-serif";

const cols = [{x0: 51, x1: 312}, {x0: 433.7, x1: 695}];
const rows = [{y0: 181, y1: 31}, {y0: 376, y1: 226.3}, {y0: 574.7, y1: 425}];

function panel(opt) {
  const c = cols[opt.col], r = rows[opt.row];
  const x = d3.scaleLinear().domain([0, 2000]).range([c.x0, c.x1]);
  const y = d3.scaleLinear().domain([0, opt.ymax]).range([r.y0, r.y1]);
  const g = svg.append("g");

  const yAxis = d3.axisLeft(y).tickValues(opt.ticks).tickSize(4).tickPadding(4).tickFormat(opt.fmt);
  const gy = g.append("g").attr("transform", `translate(${c.x0},0)`).call(yAxis);
  const xAxis = d3.axisBottom(x).tickValues(xTicks).tickSize(4).tickPadding(5).tickFormat(d3.format("d"));
  const gx = g.append("g").attr("transform", `translate(0,${r.y0})`).call(xAxis);
  [gx, gy].forEach(a => {
    a.select(".domain").attr("stroke", "#868686").attr("stroke-width", 1);
    a.selectAll(".tick line").attr("stroke", "#868686");
    a.selectAll(".tick text").attr("fill", "#595959").style("font-family", FONT).style("font-size", "10px");
  });

  const pts = [];
  opt.series.forEach(arr => times.forEach((t, i) => { if (arr[i] !== null) pts.push({t, v: arr[i]}); }));
  g.append("g").selectAll("circle").data(pts).join("circle")
    .attr("cx", d => x(d.t)).attr("cy", d => y(d.v)).attr("r", opt.r).attr("fill", opt.color);

  if (opt.band) {
    opt.band.forEach(b => {
      g.append("line").attr("x1", x(0)).attr("x2", x(opt.bandEnd))
        .attr("y1", y(b)).attr("y2", y(b))
        .attr("stroke", "#a6a6a6").attr("stroke-width", 3).attr("stroke-dasharray", "8,5");
    });
  }

  g.append("text").attr("x", opt.col ? 385 : 4).attr("y", r.y1 - 16)
    .text(opt.letter).style("font-family", FONT).style("font-weight", "bold").style("font-size", "13px");

  const lx = opt.col ? 396 : 14;
  g.append("text").attr("transform", `translate(${lx},${opt.labelY}) rotate(-90)`)
    .attr("text-anchor", "middle").text(opt.label)
    .style("font-family", FONT).style("font-weight", "bold").style("font-size", "12.5px");

  if (opt.row === 2) {
    g.append("text").attr("x", (c.x0 + c.x1) / 2 + 20).attr("y", 607).attr("text-anchor", "middle")
      .text("time (sec)").style("font-family", FONT).style("font-weight", "bold").style("font-size", "12.5px");
  }
}

const f0 = d3.format("d"), f1 = d3.format(".1f");
panel({col: 0, row: 0, ymax: 200, ticks: hrTicks, fmt: f0, series: [hrA, hrA2], color: "#000", r: 2.2, letter: "A", label: "heart rate (bpm)", labelY: 104, band: bandA, bandEnd: bandEndA});
panel({col: 1, row: 0, ymax: 200, ticks: hrTicks, fmt: f0, series: [hrD, hrD2], color: "#000", r: 2.2, letter: "D", label: "heart rate (bpm)", labelY: 104, band: bandD, bandEnd: bandEndD});
panel({col: 0, row: 1, ymax: 3, ticks: vo2Ticks, fmt: f1, series: [vo2B, vo2B2], color: "#7f7f7f", r: 2.0, letter: "B", label: "VO2 (l/min)", labelY: 299});
panel({col: 1, row: 1, ymax: 3, ticks: vo2Ticks, fmt: f1, series: [vo2E, vo2E2], color: "#7f7f7f", r: 2.0, letter: "E", label: "VO2 (l/min)", labelY: 299});
panel({col: 0, row: 2, ymax: 2, ticks: rerTicks, fmt: f1, series: [rerC, rerC2], color: "#a6a6a6", r: 2.0, letter: "C", label: "RER", labelY: 477});
panel({col: 1, row: 2, ymax: 2, ticks: rerTicks, fmt: f1, series: [rerF, rerF2], color: "#a6a6a6", r: 2.0, letter: "F", label: "RER", labelY: 477});
</script>
</body></html>
